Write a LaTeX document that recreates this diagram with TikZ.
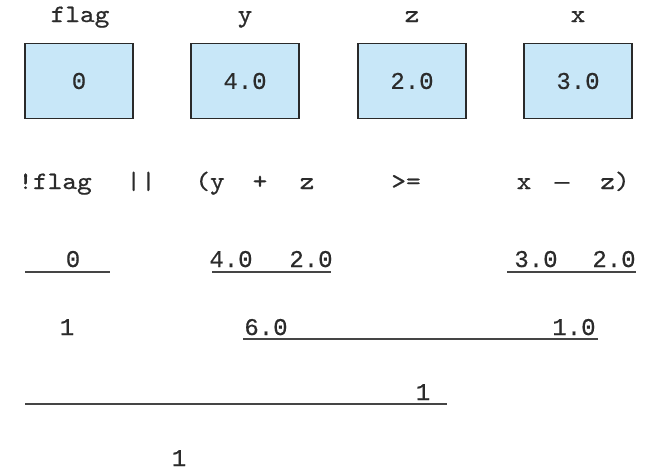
\documentclass[tikz,border=0pt]{standalone}
\usepackage{fontspec}
\newfontfamily\numf{Liberation Mono}[FakeBold=0.5]
\newfontfamily\letf{lmmono10-regular.otf}[FakeStretch=1.12,FakeBold=0.7]
\definecolor{txt}{HTML}{2B2B2B}
\definecolor{boxfill}{HTML}{C8E7F8}
\definecolor{boxline}{HTML}{2A2A2A}
\definecolor{lin}{HTML}{454545}
\begin{document}
\begin{tikzpicture}[x=1pt,y=-1pt,
  lab/.style={font=\letf\fontsize{25}{30}\selectfont, text=txt, anchor=base, inner sep=0pt},
  num/.style={font=\numf\fontsize{24}{28}\selectfont, text=txt, anchor=base, inner sep=0pt},
  valbox/.style={draw=boxline, fill=boxfill, line width=1.8pt, minimum width=108pt, minimum height=75pt, inner sep=0pt, font=\numf\fontsize{24}{28}\selectfont, text=txt},
  uline/.style={draw=lin, line width=2.2pt}]
\useasboundingbox (0,0) rectangle (648,472);
% variable names
\node[lab] (nflag) at (80,22) {flag};
\node[lab] (ny) at (245,22) {y};
\node[lab] (nz) at (412,22) {z};
\node[lab] (nx) at (578,22) {x};
% boxes
\node[valbox] (bflag) at (79,81) {0};
\node[valbox] (by) at (245,81) {4.0};
\node[valbox] (bz) at (412,81) {2.0};
\node[valbox] (bx) at (578,81) {3.0};
% expression
\node[lab] (e1) at (55,189) {!flag};
\node[lab] (e2) at (141,189) {||};
\node[lab] (e3) at (210,189) {(y};
\node[lab] (e4) at (260,189) {+};
\node[lab] (e5) at (307,189) {z};
\node[lab] (e6) at (406,189) {>=};
\node[lab] (e7) at (524,189) {x};
\node[lab, font=\numf\fontsize{24}{28}\selectfont] (e8) at (562,189) {—};
\node[lab] (e9) at (615,189) {z)};
% row 3
\node[num] (r3a) at (73,267) {0};
\node[num] (r3b) at (231,267) {4.0};
\node[num] (r3c) at (311,267) {2.0};
\node[num] (r3d) at (536,267) {3.0};
\node[num] (r3e) at (614,267) {2.0};
\coordinate (u1a) at (25,272); \coordinate (u1b) at (110,272);
\coordinate (u2a) at (212,272); \coordinate (u2b) at (331,272);
\coordinate (u3a) at (507,272); \coordinate (u3b) at (636,272);
\draw[uline] (u1a) -- (u1b);
\draw[uline] (u2a) -- (u2b);
\draw[uline] (u3a) -- (u3b);
% row 4
\node[num] (r4a) at (67,335) {1};
\node[num] (r4b) at (266,335) {6.0};
\node[num] (r4c) at (574,335) {1.0};
\coordinate (u4a) at (243,339); \coordinate (u4b) at (598,339);
\draw[uline] (u4a) -- (u4b);
% row 5
\node[num] (r5a) at (423,400) {1};
\coordinate (u5a) at (25,404); \coordinate (u5b) at (447,404);
\draw[uline] (u5a) -- (u5b);
% row 6
\node[num] (r6a) at (179,466) {1};
\end{tikzpicture}
\end{document}
